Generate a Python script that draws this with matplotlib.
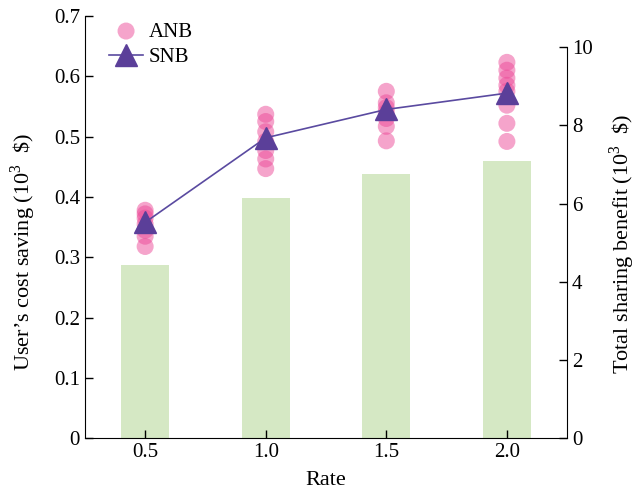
import numpy as np
import matplotlib
matplotlib.use("Agg")
import matplotlib.pyplot as plt

plt.rcParams['font.family'] = ['Liberation Serif', 'DejaVu Serif']
plt.rcParams['mathtext.fontset'] = 'custom'
plt.rcParams['mathtext.rm'] = 'Liberation Serif'

# Rate values on the x axis
rates = [0.5, 1.0, 1.5, 2.0]

# ANB: user's cost saving for each run (10^3 $)
anb = {
    0.5: [0.378, 0.372, 0.365, 0.355, 0.345, 0.335, 0.318],
    1.0: [0.537, 0.525, 0.508, 0.492, 0.477, 0.463, 0.447],
    1.5: [0.575, 0.556, 0.548, 0.540, 0.530, 0.517, 0.493],
    2.0: [0.623, 0.610, 0.597, 0.585, 0.575, 0.552, 0.522, 0.492],
}

# SNB: user's cost saving (10^3 $)
snb = [0.358, 0.498, 0.545, 0.572]

# total sharing benefit (10^3 $)
total_benefit = [4.43, 6.15, 6.76, 7.10]

fig = plt.figure(figsize=(6.38, 4.96), dpi=100)
ax1 = fig.add_axes([0.133, 0.116, 0.756, 0.852])
ax2 = ax1.twinx()

# bars on the right axis, behind everything else
ax2.bar(rates, total_benefit, width=0.2, color='#D5E8C4', zorder=1)
ax1.set_zorder(ax2.get_zorder() + 1)
ax1.patch.set_visible(False)

for i, r in enumerate(rates):
    ax1.scatter([r] * len(anb[r]), anb[r], s=150, color='#EC4A98', alpha=0.5,
                edgecolors='none', zorder=2, label='ANB' if i == 0 else None)
ax1.plot(rates, snb, color='#5A4AA0', lw=1.2, marker='^', markersize=16,
         markerfacecolor='#5B3F99', markeredgecolor='#5B3F99', zorder=3, label='SNB')

ax1.set_xlim(0.25, 2.25)
ax1.set_ylim(0, 0.7)
ax1.set_xticks(rates)
ax1.set_xticklabels(['0.5', '1.0', '1.5', '2.0'])
ax1.set_yticks(np.arange(0, 0.71, 0.1))
ax1.set_yticklabels(['0', '0.1', '0.2', '0.3', '0.4', '0.5', '0.6', '0.7'])
ax2.set_ylim(0, 10.8)
ax2.set_yticks([0, 2, 4, 6, 8, 10])

for s in ['top', 'right']:
    ax1.spines[s].set_visible(False)
for s in ['top', 'left', 'bottom']:
    ax2.spines[s].set_visible(False)
ax2.spines['right'].set_bounds(0, 10)

ax1.tick_params(direction='in', length=6, labelsize=15, width=1)
ax2.tick_params(direction='in', length=6, labelsize=15, width=1)

ax1.set_xlabel('Rate', fontsize=16, labelpad=6)
ax1.set_ylabel('User\u2019s cost saving (10$^3$  \\$)', fontsize=16)
ax2.set_ylabel('Total sharing benefit (10$^3$  \\$)', fontsize=16)
ax1.yaxis.set_label_coords(-0.098, 0.44)
ax2.yaxis.set_label_coords(1.084, 0.46)

ax1.legend(loc='upper left', bbox_to_anchor=(0.012, 1.03), frameon=False,
           fontsize=15, handlelength=1.6, handletextpad=0.3, labelspacing=0.3)

fig.savefig('out.png', dpi=100)
